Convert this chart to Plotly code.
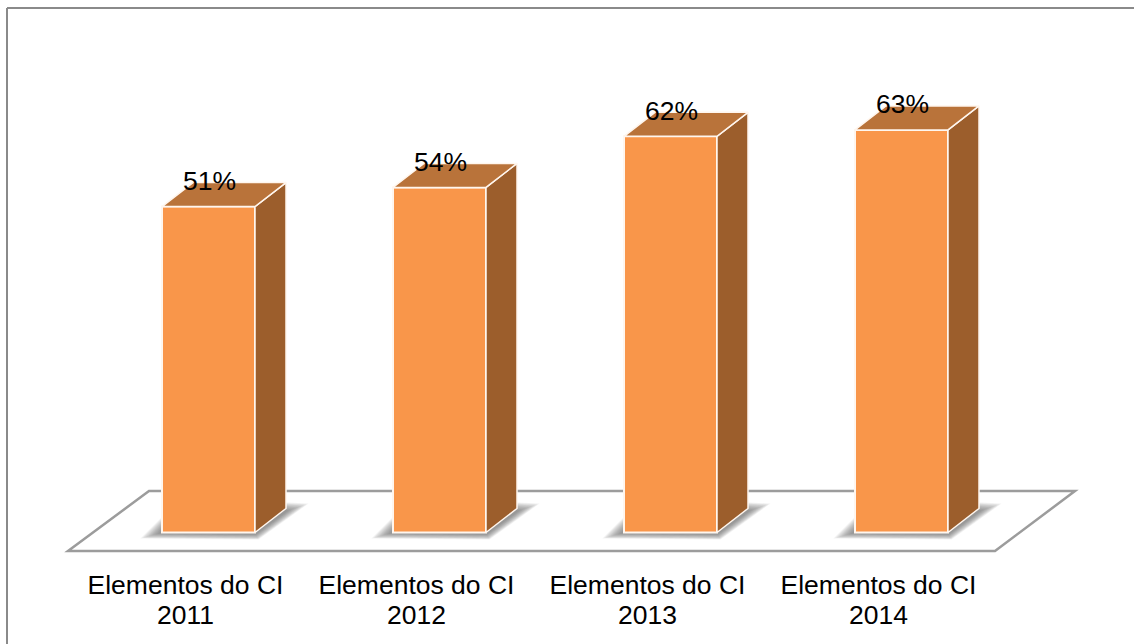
import plotly.graph_objects as go

# Chart data
categories = ["Elementos do CI"] * 4
years = ["2011", "2012", "2013", "2014"]
values = [51, 54, 62, 63]

# Drawing scale: pixels per category step and per percentage point
STEP_PX = 231.0
UNIT_PX = 6.39
PLOT_LEFT, PLOT_RIGHT, PLOT_TOP, PLOT_BOTTOM = 7, 1134, 8, 566
ZERO_X_PX, ZERO_Y_PX = 208.5, 532.5

BAR_W = 93 / STEP_PX
DEPTH_X = 31 / STEP_PX
DEPTH_Y = 24 / UNIT_PX
LABEL_SHIFT = -23 / STEP_PX

FRONT = "#f9964a"
TOP = "#b9733a"
SIDE = "#9c5e2c"
FLOOR_LINE = "#9c9c9c"
BORDER = "#8a8a8a"
FONT = "Liberation Sans"


def px(dx, dy=0):
    """Convert a pixel offset into data units on the two axes."""
    return dx / STEP_PX, dy / UNIT_PX


def path(points):
    return "M " + " L ".join(f"{x:.4f},{y:.4f}" for x, y in points) + " Z"


fig = go.Figure()

# Front faces of the columns
fig.add_trace(go.Bar(
    x=list(range(len(values))), y=values, width=BAR_W,
    marker=dict(color=FRONT, line=dict(color="#fff6ee", width=2)),
    hoverinfo="skip", showlegend=False,
))

# Side and top faces follow each column's value
for i, v in enumerate(values):
    l, r = i - BAR_W / 2, i + BAR_W / 2
    fig.add_trace(go.Scatter(
        x=[r, r + DEPTH_X, r + DEPTH_X, r, r],
        y=[0, DEPTH_Y, v + DEPTH_Y, v, 0],
        mode="lines", fill="toself", fillcolor=SIDE,
        line=dict(color="#fff6ee", width=1.5),
        hoverinfo="skip", showlegend=False,
    ))
    fig.add_trace(go.Scatter(
        x=[l, r, r + DEPTH_X, l + DEPTH_X, l],
        y=[v, v, v + DEPTH_Y, v + DEPTH_Y, v],
        mode="lines", fill="toself", fillcolor=TOP,
        line=dict(color="#fff6ee", width=1.5),
        hoverinfo="skip", showlegend=False,
    ))

# Carries the second row of tick labels
fig.add_trace(go.Scatter(
    x=list(range(len(values))), y=values, xaxis="x2",
    mode="markers", marker=dict(opacity=0),
    hoverinfo="skip", showlegend=False,
))

shapes = []

# Floor plane beneath the columns
floor_px = [(-140.5, -18.5), (786.5, -18.5), (866.5, 41.5), (-59.5, 41.5)]
floor_pts = [px(a, b) for a, b in floor_px]
shapes.append(dict(
    type="path", path=path(floor_pts), xref="x", yref="y", layer="below",
    fillcolor="white", line=dict(color=FLOOR_LINE, width=2.5),
))

# Soft cast shadows, stacked translucent layers that tighten toward the column
outer = [(-68, -6), (50, -7), (100, 29), (60, 31), (-46, 16)]
inner = [(-50, -1), (47, -2), (80, 22), (62, 24), (-46, 4)]
LAYERS = 12
for i in range(len(values)):
    for k in range(LAYERS):
        t = k / (LAYERS - 1)
        pts = []
        for (ox, oy), (ix, iy) in zip(outer, inner):
            dx = ox + (ix - ox) * t
            dy = oy + (iy - oy) * t
            ax, ay = px(dx, dy)
            pts.append((i + ax, ay))
        shapes.append(dict(
            type="path", path=path(pts), xref="x", yref="y", layer="below",
            fillcolor="rgba(80,80,80,0.07)", line=dict(width=0),
        ))

# Frame along the left and top edges only
frame_bottom = (PLOT_BOTTOM - 644) / (PLOT_BOTTOM - PLOT_TOP)
shapes.append(dict(type="line", xref="paper", yref="paper", x0=0, x1=1, y0=1, y1=1,
                   line=dict(color=BORDER, width=2)))
shapes.append(dict(type="line", xref="paper", yref="paper", x0=0, x1=0, y0=frame_bottom, y1=1,
                   line=dict(color=BORDER, width=2)))

# Percentage labels sit over the top face of each column
annotations = [
    dict(x=i, y=v, xref="x", yref="y", text=f"{v}%", showarrow=False,
         yanchor="middle", yshift=25.5, xshift=1,
         font=dict(family=FONT, size=26.5, color="black"))
    for i, v in enumerate(values)
]

x_range = [(PLOT_LEFT - ZERO_X_PX) / STEP_PX, (PLOT_RIGHT - ZERO_X_PX) / STEP_PX]
y_range = [(ZERO_Y_PX - PLOT_BOTTOM) / UNIT_PX, (ZERO_Y_PX - PLOT_TOP) / UNIT_PX]

tick_font = dict(family=FONT, size=26.5, color="black")
tick_positions = [i + LABEL_SHIFT for i in range(len(values))]

fig.update_layout(
    width=1134, height=644,
    margin=dict(l=PLOT_LEFT, r=1134 - PLOT_RIGHT, t=PLOT_TOP, b=644 - PLOT_BOTTOM, pad=0),
    paper_bgcolor="white", plot_bgcolor="rgba(0,0,0,0)",
    shapes=shapes, annotations=annotations, showlegend=False,
    xaxis=dict(
        range=x_range, tickmode="array", tickvals=tick_positions,
        ticktext=categories, tickfont=tick_font, ticks="", showgrid=False,
        zeroline=False, showline=False, ticklabelstandoff=0,
    ),
    xaxis2=dict(
        range=x_range, overlaying="x", anchor="y", side="bottom",
        tickmode="array", tickvals=tick_positions,
        ticktext=years, tickfont=tick_font, ticks="", showgrid=False,
        zeroline=False, showline=False, ticklabelstandoff=30,
    ),
    yaxis=dict(range=y_range, visible=False),
)

fig.write_html("out.html", config=dict(displayModeBar=False))
